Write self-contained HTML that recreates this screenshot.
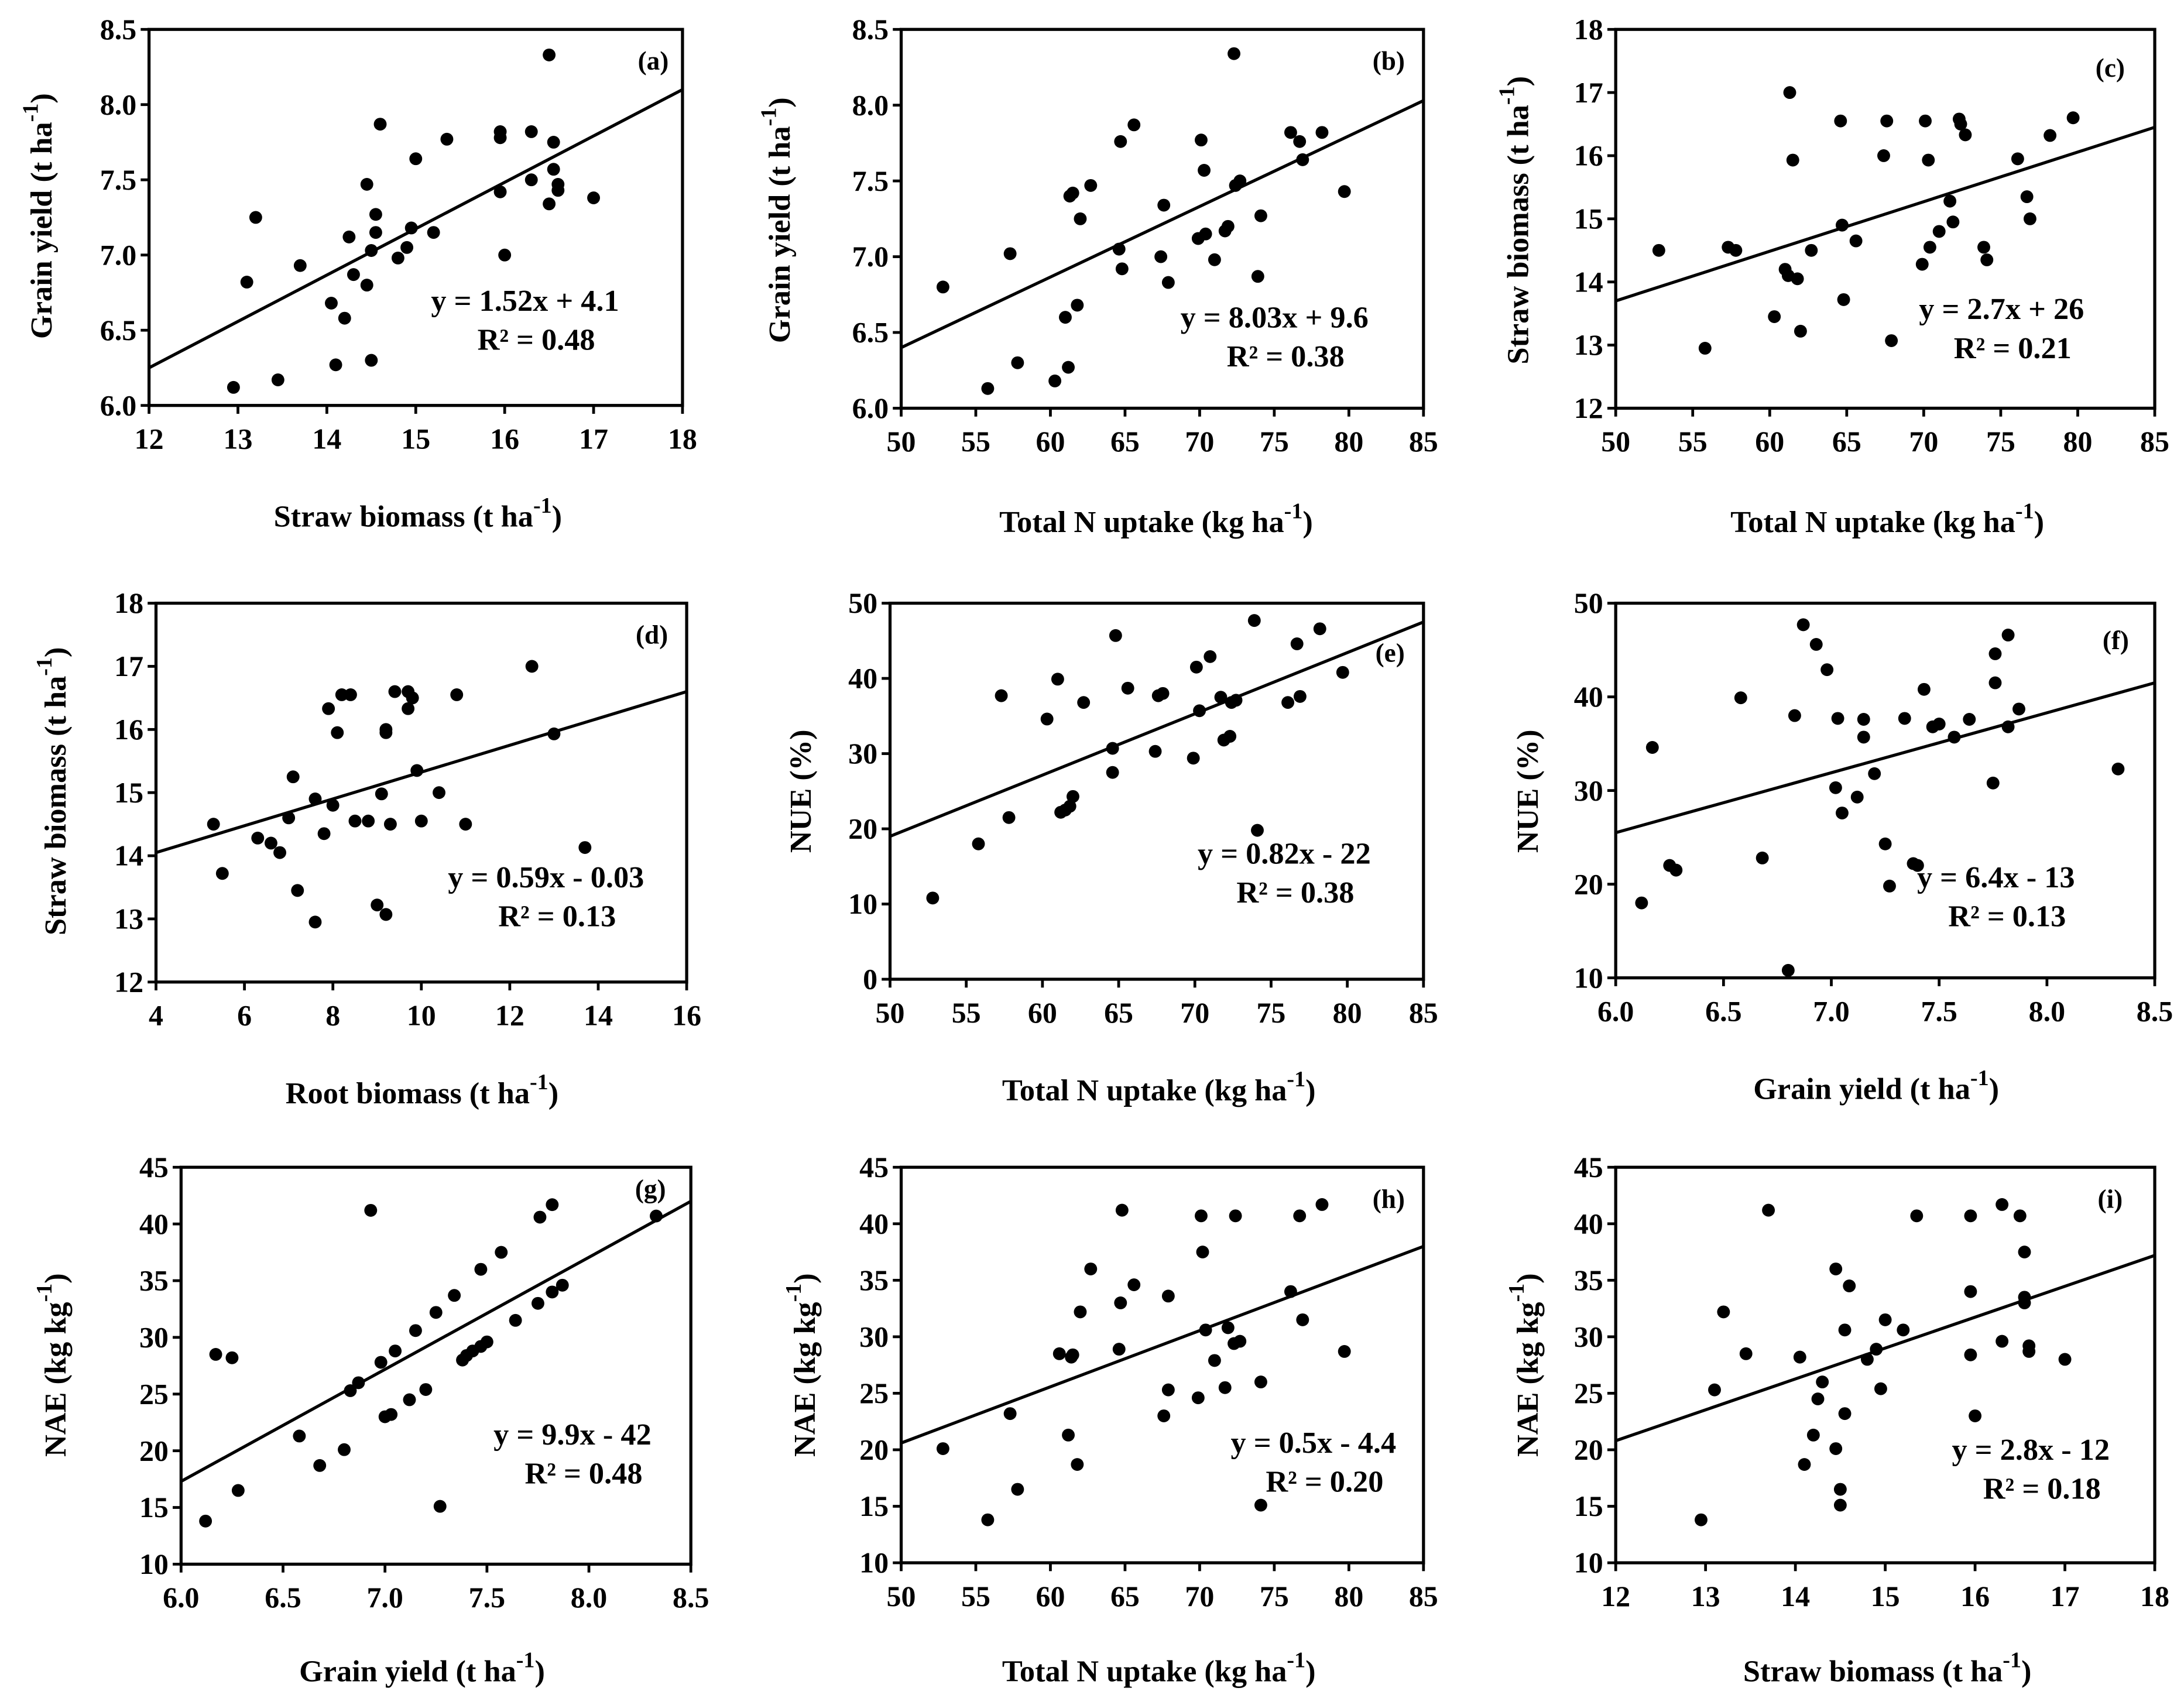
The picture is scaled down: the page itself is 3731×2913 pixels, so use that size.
<!DOCTYPE html>
<html><head><meta charset="utf-8"><style>
html,body{margin:0;padding:0;background:#fff;}
svg{display:block;}
text{font-family:"Liberation Serif",serif;font-weight:bold;fill:#000;}
</style></head><body>
<svg id="fig" width="3731" height="2913" viewBox="0 0 1568 1224" xmlns="http://www.w3.org/2000/svg"></svg>
<script>
// Panel data arrays
const aX=[12.95,13.1,13.2,13.45,13.7,14.05,14.1,14.2,14.25,14.3,14.45,14.45,14.5,14.5,14.55,14.55,14.6,14.8,14.9,14.95,15.0,15.2,15.35,15.95,15.95,15.95,16.0,16.3,16.3,16.5,16.5,16.55,16.55,16.6,16.6,17.0];
const aY=[6.12,6.82,7.25,6.17,6.93,6.68,6.27,6.58,7.12,6.87,6.8,7.47,6.3,7.03,7.27,7.15,7.87,6.98,7.05,7.18,7.64,7.15,7.77,7.42,7.78,7.82,7.0,7.82,7.5,8.33,7.34,7.75,7.57,7.47,7.43,7.38];
const nX=[52.8,55.8,57.3,57.8,60.3,61,61.2,61.3,61.5,61.8,62,62.7,64.6,64.7,64.8,65.6,67.4,67.6,67.9,69.9,70.1,70.3,70.4,71,71.7,71.9,72.3,72.4,72.7,73.9,74.1,76.1,76.7,76.9,78.2,79.7];
const bY=[6.8,6.13,7.02,6.3,6.18,6.6,6.27,7.4,7.42,6.68,7.25,7.47,7.05,7.76,6.92,7.87,7.0,7.34,6.83,7.12,7.77,7.57,7.15,6.98,7.17,7.2,8.34,7.47,7.5,6.87,7.27,7.82,7.76,7.64,7.82,7.43];
const cY=[14.5,12.95,14.55,14.5,13.45,14.2,14.1,17.0,15.93,14.05,13.22,14.5,16.55,14.9,13.72,14.65,16.0,16.55,13.07,14.28,16.55,15.93,14.55,14.8,15.28,14.95,16.58,16.5,16.33,14.55,14.35,15.95,15.35,15.0,16.32,16.6];
const dX=[5.3,5.5,6.3,6.6,6.8,7,7.1,7.2,7.6,7.6,7.8,7.9,8.0,8.1,8.2,8.4,8.5,8.8,9.0,9.1,9.2,9.2,9.2,9.3,9.4,9.7,9.7,9.8,9.9,10.0,10.4,10.8,11.0,12.5,13.0,13.7];
const dY=[14.5,13.72,14.28,14.2,14.05,14.6,15.25,13.45,12.95,14.9,14.35,16.33,14.8,15.95,16.55,16.55,14.55,14.55,13.22,14.98,13.07,15.95,16.0,14.5,16.6,16.33,16.6,16.5,15.35,14.55,15.0,16.55,14.5,17.0,15.93,14.13];
const eX=[52.8,55.8,57.3,57.8,60.3,61,61.2,61.5,61.8,62,62.7,64.6,64.6,64.8,65.6,67.4,67.6,67.9,69.9,70.1,70.3,71,71.7,71.9,72.3,72.4,72.7,73.9,74.1,76.1,76.7,76.9,78.2,79.7];
const eY=[10.8,18,37.7,21.5,34.6,39.9,22.2,22.5,23,24.3,36.8,30.7,27.5,45.7,38.7,30.3,37.7,38,29.4,41.5,35.7,42.9,37.5,31.8,32.3,36.8,37.1,47.7,19.8,36.8,44.6,37.6,46.6,40.8];
const fX=[6.12,6.17,6.25,6.28,6.58,6.68,6.8,6.83,6.87,6.93,6.98,7.02,7.03,7.05,7.12,7.15,7.15,7.2,7.25,7.27,7.34,7.38,7.4,7.43,7.47,7.5,7.57,7.64,7.75,7.76,7.76,7.82,7.82,7.87,8.33];
const fY=[18,34.6,22,21.5,39.9,22.8,10.8,38,47.7,45.6,42.9,30.3,37.7,27.6,29.3,37.6,35.7,31.8,24.3,19.8,37.7,22.2,22,40.8,36.8,37.1,35.7,37.6,30.8,41.5,44.6,46.6,36.8,38.7,32.3];
const gX=[6.12,6.17,6.25,6.28,6.58,6.68,6.8,6.83,6.87,6.93,6.98,7.0,7.03,7.05,7.12,7.15,7.2,7.25,7.27,7.34,7.38,7.4,7.43,7.47,7.47,7.5,7.57,7.64,7.75,7.76,7.82,7.82,7.87,8.33];
const gY=[13.8,28.5,28.2,16.5,21.3,18.7,20.1,25.3,26,41.2,27.8,23,23.2,28.8,24.5,30.6,25.4,32.2,15.1,33.7,28,28.4,28.8,29.2,36,29.6,37.5,31.5,33,40.6,41.7,34,34.6,40.7];
const hX=[52.8,55.8,57.3,57.8,60.6,61.2,61.4,61.5,61.8,62,62.7,64.6,64.7,64.8,65.6,67.6,67.9,67.9,69.9,70.1,70.2,70.4,71,71.7,71.9,72.3,72.4,72.7,74.1,74.1,76.1,76.7,76.9,78.2,79.7];
const hY=[20.1,13.8,23.2,16.5,28.5,21.3,28.2,28.4,18.7,32.2,36,28.9,33,41.2,34.6,23,25.3,33.6,24.6,40.7,37.5,30.6,27.9,25.5,30.8,29.4,40.7,29.6,26,15.1,34,40.7,31.5,41.7,28.7];
const iX=[12.95,13.1,13.2,13.45,13.7,14.05,14.1,14.2,14.25,14.3,14.45,14.45,14.5,14.5,14.55,14.55,14.6,14.8,14.9,14.95,15.0,15.2,15.35,15.95,15.95,15.95,16.0,16.3,16.3,16.5,16.55,16.55,16.55,16.6,16.6,17.0];
const iY=[13.8,25.3,32.2,28.5,41.2,28.2,18.7,21.3,24.5,26,20.1,36,16.5,15.1,23.2,30.6,34.5,28,28.9,25.4,31.5,30.6,40.7,28.4,34,40.7,23,41.7,29.6,40.7,37.5,33.5,33,29.2,28.7,28];
// Trend line values at x-axis min and max
const lineA=[6.25,8.1], lineB=[6.4,8.03], lineC=[13.7,16.45], lineD=[14.05,16.6], lineE=[19,47.5], lineF=[25.5,41.5], lineG=[17.3,42], lineH=[20.6,38], lineI=[20.8,37.2];
// Tick labels
const tStraw=["12","13","14","15","16","17","18"], tN=["50","55","60","65","70","75","80","85"], tRoot=["4","6","8","10","12","14","16"], tGrain=["6.0","6.5","7.0","7.5","8.0","8.5"];
const tGY=["6.0","6.5","7.0","7.5","8.0","8.5"], tSB=["12","13","14","15","16","17","18"], tNUE1=["0","10","20","30","40","50"], tNUE2=["10","20","30","40","50"], tNAE=["10","15","20","25","30","35","40","45"];

const NS="http://www.w3.org/2000/svg";
const svg=document.getElementById('fig');
function mk(tag,attrs,parent){const e=document.createElementNS(NS,tag);for(const k in attrs)e.setAttribute(k,attrs[k]);(parent||svg).appendChild(e);return e;}

const panels=[
 {id:'a',L:107,R:490,T:21,B:291,xt:tStraw,yt:tGY,xs:aX,ys:aY,line:lineA,xl:'Straw biomass (t ha',yl:'Grain yield (t ha',xlx:300,xly:378,ylx:30,yly:155,eq:['y = 1.52x + 4.1','R² = 0.48'],eqx:377,eqy:223,lab:[469,50]},
 {id:'b',L:647,R:1022,T:21,B:293,xt:tN,yt:tGY,xs:nX,ys:bY,line:lineB,xl:'Total N uptake (kg ha',yl:'Grain yield (t ha',xlx:830,xly:382,ylx:560,yly:158,eq:['y = 8.03x + 9.6','R² = 0.38'],eqx:915,eqy:235,lab:[997,50]},
 {id:'c',L:1160,R:1547,T:21,B:293,xt:tN,yt:tSB,xs:nX,ys:cY,line:lineC,xl:'Total N uptake (kg ha',yl:'Straw biomass (t ha',xlx:1355,xly:382,ylx:1090,yly:158,eq:['y = 2.7x + 26','R² = 0.21'],eqx:1437,eqy:229,lab:[1515,55]},
 {id:'d',L:112,R:493,T:433,B:705,xt:tRoot,yt:tSB,xs:dX,ys:dY,line:lineD,xl:'Root biomass (t ha',yl:'Straw biomass (t ha',xlx:303,xly:792,ylx:40,yly:568,eq:['y = 0.59x - 0.03','R² = 0.13'],eqx:392,eqy:637,lab:[468,462]},
 {id:'e',L:639,R:1022,T:433,B:703,xt:tN,yt:tNUE1,xs:eX,ys:eY,line:lineE,xl:'Total N uptake (kg ha',yl:'NUE (%)',xlx:832,xly:790,ylx:575,yly:568,eq:['y = 0.82x - 22','R² = 0.38'],eqx:922,eqy:620,lab:[998,475],plain:true},
 {id:'f',L:1160,R:1547,T:433,B:702,xt:tGrain,yt:tNUE2,xs:fX,ys:fY,line:lineF,xl:'Grain yield (t ha',yl:'NUE (%)',xlx:1347,xly:789,ylx:1097,yly:568,eq:['y = 6.4x - 13','R² = 0.13'],eqx:1433,eqy:637,lab:[1519,466],plain:true},
 {id:'g',L:130,R:496,T:838,B:1123,xt:tGrain,yt:tNAE,xs:gX,ys:gY,line:lineG,xl:'Grain yield (t ha',yl:'NAE (kg kg',xlx:303,xly:1207,ylx:40,yly:980,eq:['y = 9.9x - 42','R² = 0.48'],eqx:411,eqy:1037,lab:[467,860]},
 {id:'h',L:647,R:1022,T:838,B:1122,xt:tN,yt:tNAE,xs:hX,ys:hY,line:lineH,xl:'Total N uptake (kg ha',yl:'NAE (kg kg',xlx:832,xly:1207,ylx:578,yly:980,eq:['y = 0.5x - 4.4','R² = 0.20'],eqx:943,eqy:1043,lab:[997,867]},
 {id:'i',L:1160,R:1547,T:838,B:1122,xt:tStraw,yt:tNAE,xs:iX,ys:iY,line:lineI,xl:'Straw biomass (t ha',yl:'NAE (kg kg',xlx:1355,xly:1207,ylx:1097,yly:980,eq:['y = 2.8x - 12','R² = 0.18'],eqx:1458,eqy:1048,lab:[1515,867]}
];

panels.forEach(p=>{
 const g=mk('g',{});
 
 
 const x0=parseFloat(p.xt[0]),x1=parseFloat(p.xt[p.xt.length-1]);
 const y0=parseFloat(p.yt[0]),y1=parseFloat(p.yt[p.yt.length-1]);
 const sx=v=>p.L+(v-x0)/(x1-x0)*(p.R-p.L);
 const sy=v=>p.B-(v-y0)/(y1-y0)*(p.B-p.T);
 const box=mk('rect',{x:p.L,y:p.T,width:p.R-p.L,height:p.B-p.T,fill:'none',stroke:'#000','stroke-width':2.2},g);
 
 
 p.xt.forEach(t=>{const X=sx(parseFloat(t));
  mk('line',{x1:X,x2:X,y1:p.B,y2:p.B+6,stroke:'#000','stroke-width':2},g);
  const tx=mk('text',{x:X,y:p.B+31,'text-anchor':'middle','font-size':21},g);tx.textContent=t;
  
  
 });
 p.yt.forEach(t=>{const Y=sy(parseFloat(t));
  mk('line',{x1:p.L-6,x2:p.L,y1:Y,y2:Y,stroke:'#000','stroke-width':2},g);
  const tx=mk('text',{x:p.L-9,y:Y+7,'text-anchor':'end','font-size':21},g);tx.textContent=t;
  
  
 });
 const ln=mk('line',{x1:sx(x0),y1:sy(p.line[0]),x2:sx(x1),y2:sy(p.line[1]),stroke:'#000','stroke-width':2.2},g);
 
 
 p.xs.forEach((v,k)=>{
  const c=mk('circle',{cx:sx(v),cy:sy(p.ys[k]),r:4.6,fill:'#000'},g);
  
  
 });
 const xl=mk('text',{x:p.xlx,y:p.xly,'text-anchor':'middle','font-size':22},g);
 xl.innerHTML=p.xl+'<tspan dy="-10" font-size="16">-1</tspan><tspan dy="10">)</tspan>';
 
 
 const yl=mk('text',{x:0,y:0,'text-anchor':'middle','font-size':22,transform:`translate(${p.ylx+7},${p.yly}) rotate(-90)`},g);
 if(p.plain) yl.textContent=p.yl; else yl.innerHTML=p.yl+'<tspan dy="-10" font-size="16">-1</tspan><tspan dy="10">)</tspan>';
 
 
 p.eq.forEach((s,k)=>{
  const t=mk('text',{x:p.eqx+(k?8:0),y:p.eqy+k*28,'text-anchor':'middle','font-size':22},g);t.textContent=s;
  
  
 });
 const lb=mk('text',{x:p.lab[0],y:p.lab[1],'text-anchor':'middle','font-size':19},g);lb.textContent='('+p.id+')';
 
 
});
</script>
</body></html>
